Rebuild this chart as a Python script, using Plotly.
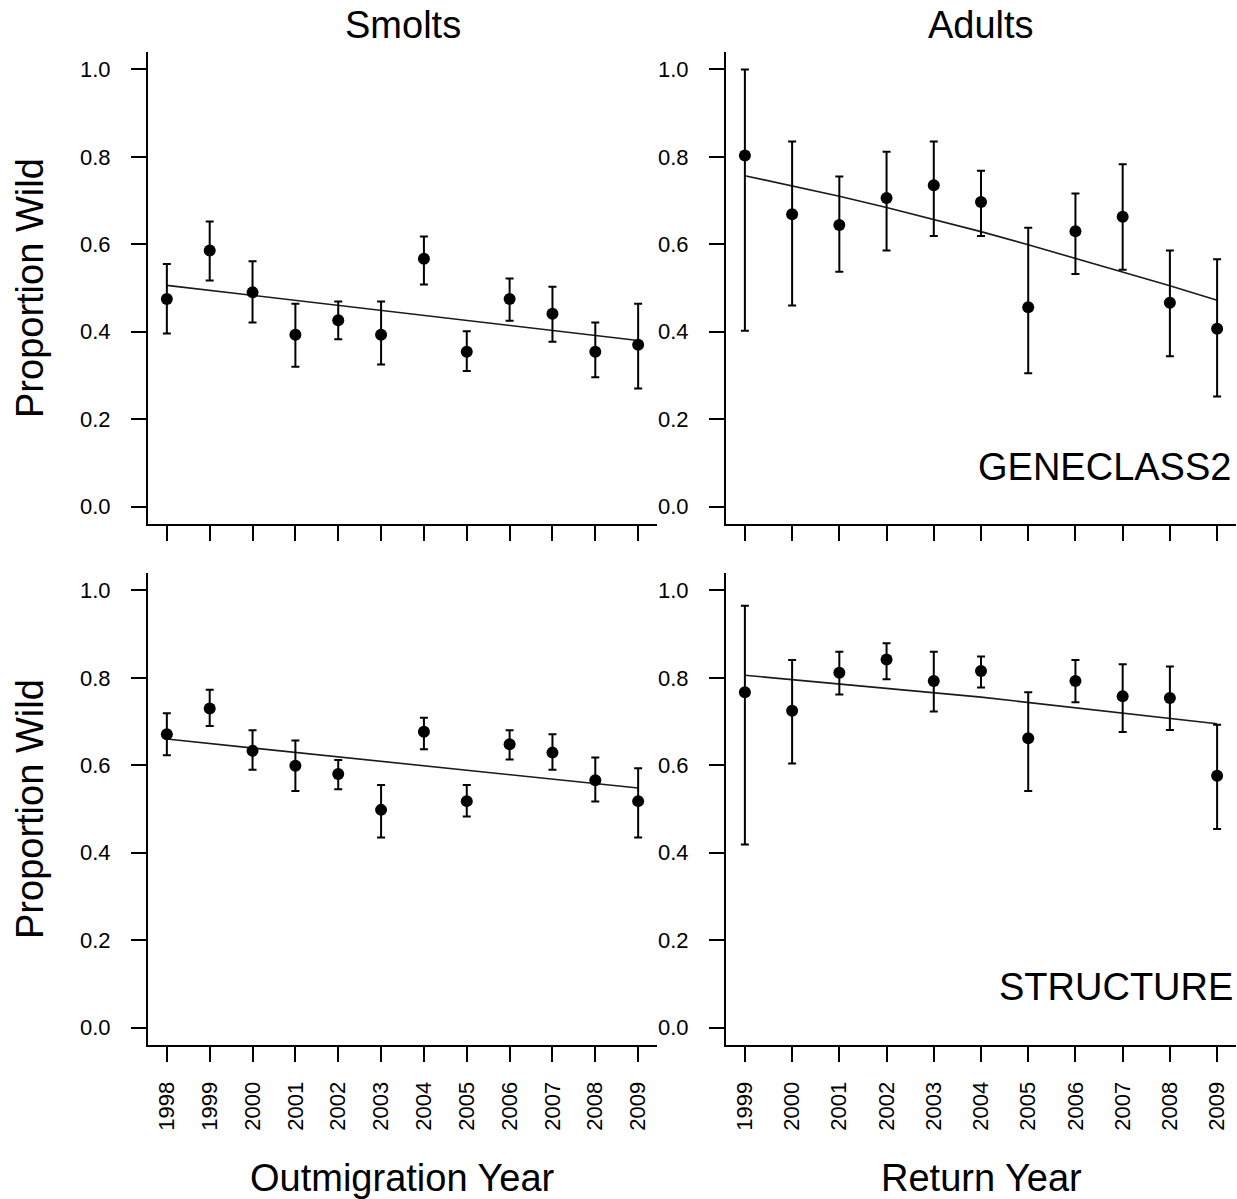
import plotly.graph_objects as go

# ---------------- data ----------------
smolt_years = [1998, 1999, 2000, 2001, 2002, 2003, 2004, 2005, 2006, 2007, 2008, 2009]
adult_years = [1999, 2000, 2001, 2002, 2003, 2004, 2005, 2006, 2007, 2008, 2009]

# Smolts, GENECLASS2
sg_val = [0.475, 0.586, 0.490, 0.393, 0.426, 0.393, 0.567, 0.354, 0.475, 0.441, 0.354, 0.370]
sg_lo  = [0.396, 0.517, 0.421, 0.320, 0.383, 0.325, 0.508, 0.310, 0.425, 0.377, 0.296, 0.270]
sg_hi  = [0.555, 0.652, 0.561, 0.464, 0.469, 0.469, 0.618, 0.401, 0.522, 0.503, 0.421, 0.464]
sg_trend_x = [1998, 2009]
sg_trend_y = [0.506, 0.380]

# Adults, GENECLASS2
ag_val = [0.803, 0.669, 0.644, 0.706, 0.735, 0.697, 0.456, 0.630, 0.663, 0.466, 0.407]
ag_lo  = [0.402, 0.460, 0.537, 0.586, 0.619, 0.619, 0.305, 0.532, 0.542, 0.344, 0.252]
ag_hi  = [1.000, 0.835, 0.755, 0.812, 0.835, 0.768, 0.638, 0.716, 0.783, 0.586, 0.566]
ag_trend_x = [1999, 2000, 2001, 2002, 2003, 2004, 2005, 2006, 2007, 2008, 2009]
ag_trend_y = [0.757, 0.734, 0.710, 0.684, 0.657, 0.629, 0.599, 0.568, 0.537, 0.505, 0.472]

# Smolts, STRUCTURE
ss_val = [0.671, 0.730, 0.633, 0.599, 0.580, 0.498, 0.677, 0.518, 0.648, 0.629, 0.566, 0.518]
ss_lo  = [0.623, 0.690, 0.590, 0.541, 0.545, 0.435, 0.637, 0.483, 0.613, 0.590, 0.517, 0.435]
ss_hi  = [0.719, 0.773, 0.680, 0.657, 0.612, 0.555, 0.709, 0.555, 0.680, 0.671, 0.618, 0.593]
ss_trend_x = [1998, 2009]
ss_trend_y = [0.660, 0.548]

# Adults, STRUCTURE
as_val = [0.767, 0.725, 0.812, 0.842, 0.793, 0.816, 0.662, 0.793, 0.758, 0.754, 0.576]
as_lo  = [0.419, 0.604, 0.762, 0.797, 0.723, 0.778, 0.541, 0.744, 0.676, 0.681, 0.454]
as_hi  = [0.965, 0.841, 0.860, 0.879, 0.860, 0.849, 0.767, 0.841, 0.831, 0.826, 0.693]
as_trend_x = [1999, 2004, 2009]
as_trend_y = [0.806, 0.756, 0.695]

y_ticks = [0.0, 0.2, 0.4, 0.6, 0.8, 1.0]
y_ticktext = ["0.0", "0.2", "0.4", "0.6", "0.8", "1.0"]

col_titles = ["Smolts", "Adults"]
x_titles = ["Outmigration Year", "Return Year"]
y_title = "Proportion Wild"
method_labels = ["GENECLASS2", "STRUCTURE"]

# ---------------- figure ----------------
W, H = 1237, 1199
FONT = "Liberation Sans, Arial, Helvetica, sans-serif"

fig = go.Figure()

panels = [
    ("x", "y", smolt_years, sg_val, sg_lo, sg_hi, sg_trend_x, sg_trend_y),
    ("x2", "y2", adult_years, ag_val, ag_lo, ag_hi, ag_trend_x, ag_trend_y),
    ("x3", "y3", smolt_years, ss_val, ss_lo, ss_hi, ss_trend_x, ss_trend_y),
    ("x4", "y4", adult_years, as_val, as_lo, as_hi, as_trend_x, as_trend_y),
]

for xa, ya, yrs, val, lo, hi, tx, ty in panels:
    fig.add_trace(go.Scatter(
        x=tx, y=ty, xaxis=xa, yaxis=ya, mode="lines",
        line=dict(color="#1a1a1a", width=1.6), showlegend=False, hoverinfo="skip"))
    fig.add_trace(go.Scatter(
        x=yrs, y=val, xaxis=xa, yaxis=ya, mode="markers",
        marker=dict(color="black", size=12),
        error_y=dict(type="data", symmetric=False,
                     array=[h - v for h, v in zip(hi, val)],
                     arrayminus=[v - l for v, l in zip(val, lo)],
                     color="black", thickness=2, width=4),
        showlegend=False))

xl = [148 / W, 657 / W]
xr = [726 / W, 1236 / W]
yt = [1 - 524 / H, 1 - 52 / H]
yb = [1 - 1045 / H, 1 - 573 / H]

def xaxis(domain, rng, years, anchor, labels):
    return dict(domain=domain, range=rng, anchor=anchor,
                tickvals=years, ticktext=[str(v) for v in years],
                showticklabels=labels, tickangle=-90,
                ticks="outside", ticklen=15, tickwidth=2, tickcolor="black",
                ticklabelstandoff=11,
                showline=True, linecolor="black", linewidth=2,
                showgrid=False, zeroline=False,
                tickfont=dict(family=FONT, size=22, color="black"))

def yaxis(domain, anchor):
    return dict(domain=domain, range=[-0.04, 1.04], anchor=anchor,
                tickvals=y_ticks, ticktext=y_ticktext,
                ticks="outside", ticklen=15, tickwidth=2, tickcolor="black",
                ticklabelstandoff=16,
                showline=True, linecolor="black", linewidth=2,
                showgrid=False, zeroline=False,
                tickfont=dict(family=FONT, size=22, color="black"))

fig.update_layout(
    width=W, height=H, autosize=False,
    margin=dict(l=0, r=0, t=0, b=0),
    paper_bgcolor="white", plot_bgcolor="white",
    font=dict(family=FONT, color="black"),
    xaxis=xaxis(xl, [1997.56, 2009.44], smolt_years, "y", False),
    yaxis=yaxis(yt, "x"),
    xaxis2=xaxis(xr, [1998.6, 2009.4], adult_years, "y2", False),
    yaxis2=yaxis(yt, "x2"),
    xaxis3=xaxis(xl, [1997.56, 2009.44], smolt_years, "y3", True),
    yaxis3=yaxis(yb, "x3"),
    xaxis4=xaxis(xr, [1998.6, 2009.4], adult_years, "y4", True),
    yaxis4=yaxis(yb, "x4"),
)

big = dict(family=FONT, size=38, color="black")
ann = []
ann.append(dict(text=col_titles[0], x=(xl[0] + xl[1]) / 2, y=1 - 25 / H, xref="paper", yref="paper",
                showarrow=False, xanchor="center", yanchor="middle", font=big))
ann.append(dict(text=col_titles[1], x=(xr[0] + xr[1]) / 2, y=1 - 25 / H, xref="paper", yref="paper",
                showarrow=False, xanchor="center", yanchor="middle", font=big))
ann.append(dict(text=x_titles[0], x=(xl[0] + xl[1]) / 2, y=1 - 1178 / H, xref="paper", yref="paper",
                showarrow=False, xanchor="center", yanchor="middle", font=big))
ann.append(dict(text=x_titles[1], x=(xr[0] + xr[1]) / 2, y=1 - 1178 / H, xref="paper", yref="paper",
                showarrow=False, xanchor="center", yanchor="middle", font=big))
for yc in [(yt[0] + yt[1]) / 2, (yb[0] + yb[1]) / 2]:
    ann.append(dict(text=y_title, x=30 / W, y=yc, xref="paper", yref="paper", textangle=-90,
                    showarrow=False, xanchor="center", yanchor="middle", font=big))
ann.append(dict(text=method_labels[0], x=1233 / W, y=1 - 467 / H, xref="paper", yref="paper",
                showarrow=False, xanchor="right", yanchor="middle", font=big))
ann.append(dict(text=method_labels[1], x=1235 / W, y=1 - 987 / H, xref="paper", yref="paper",
                showarrow=False, xanchor="right", yanchor="middle", font=big))
fig.update_layout(annotations=ann)

fig.write_html("out.html")
